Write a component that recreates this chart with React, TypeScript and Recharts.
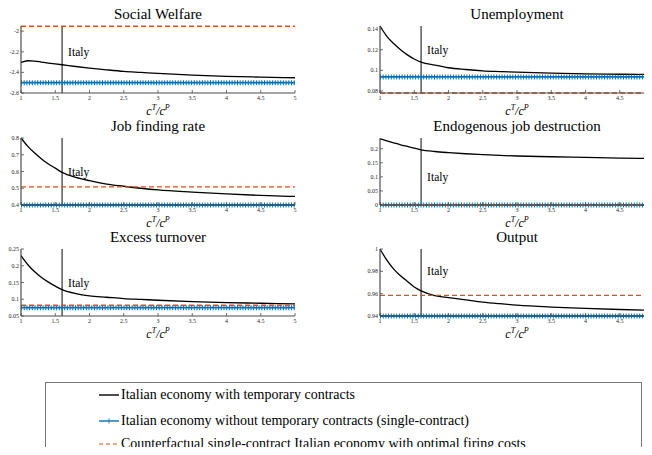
import React from "react";
import { LineChart, Line, XAxis, YAxis, ReferenceLine, ReferenceDot } from "recharts";

const xGrid = [1, 1.1, 1.2, 1.3, 1.4, 1.5, 1.6, 1.8, 2, 2.25, 2.5, 2.75, 3, 3.5, 4, 4.5, 5];
const xTicks = [1, 1.5, 2, 2.5, 3, 3.5, 4, 4.5, 5];
const italyRatio = 1.6;

const panelTitles = [
  "Social Welfare",
  "Unemployment",
  "Job finding rate",
  "Endogenous job destruction",
  "Excess turnover",
  "Output",
];

// Italian economy with temporary contracts (black)
const welfareTemp = [-2.303, -2.287, -2.29, -2.3, -2.31, -2.318, -2.326, -2.343, -2.358, -2.375, -2.39, -2.4, -2.41, -2.426, -2.438, -2.446, -2.452];
const unempTemp = [0.143, 0.133, 0.126, 0.12, 0.115, 0.111, 0.108, 0.105, 0.1025, 0.1008, 0.0995, 0.0988, 0.0982, 0.0972, 0.0965, 0.0962, 0.096];
const jobFindTemp = [0.8, 0.75, 0.71, 0.675, 0.645, 0.62, 0.595, 0.565, 0.545, 0.525, 0.512, 0.5, 0.49, 0.477, 0.466, 0.457, 0.451];
const destructTemp = [0.235, 0.228, 0.221, 0.214, 0.208, 0.202, 0.196, 0.19, 0.186, 0.182, 0.179, 0.176, 0.174, 0.1714, 0.169, 0.1668, 0.1655];
const turnoverTemp = [0.23, 0.203, 0.182, 0.165, 0.151, 0.139, 0.129, 0.117, 0.11, 0.106, 0.102, 0.0995, 0.097, 0.093, 0.09, 0.088, 0.086];
const outputTemp = [1.0, 0.99, 0.982, 0.976, 0.971, 0.966, 0.9625, 0.9583, 0.9565, 0.9545, 0.9525, 0.951, 0.9497, 0.948, 0.9468, 0.9458, 0.945];
const tempSeries = [welfareTemp, unempTemp, jobFindTemp, destructTemp, turnoverTemp, outputTemp];

// single-contract economy (blue) and optimal firing cost counterfactual (orange)
const singleLevels = [-2.5, 0.0936, 0.4, 0, 0.075, 0.94];
const optimalLevels = [-1.952, 0.078, 0.508, 0, 0.082, 0.9585];

const yDomains = [
  [-2.6, -1.95],
  [0.078, 0.143],
  [0.4, 0.8],
  [0, 0.238],
  [0.05, 0.25],
  [0.94, 1],
];
const yTicks = [
  [-2.6, -2.4, -2.2, -2],
  [0.08, 0.1, 0.12, 0.14],
  [0.4, 0.5, 0.6, 0.7, 0.8],
  [0, 0.05, 0.1, 0.15, 0.2],
  [0.05, 0.1, 0.15, 0.2, 0.25],
  [0.94, 0.96, 0.98, 1],
];
const italyLabelY = [-2.2, 0.12, 0.6, 0.1, 0.15, 0.98];

const legendLabels = [
  "Italian economy with temporary contracts",
  "Italian economy without temporary contracts (single-contract)",
  "Counterfactual single-contract Italian economy with optimal firing costs",
];

const SERIF = '"Liberation Serif", "DejaVu Serif", serif';
const AXIS = "#4d4d4d";
const BLUE = "#0072BD";
const ORANGE = "#D95319";

const plotLefts = [21, 380];
const plotTops = [26, 138, 249];
const PLOT_W = 274;
const PLOT_H = 67;
const Y_W = 30;
const M_TOP = 4;
const X_H = 14;

const tickText = { fontSize: 6, fill: "#262626", fontFamily: SERIF };

// the right column is cropped at the figure edge, so its last label is not shown
const makeBottomTick = (showLast: boolean) => (props: any) => (
  <g>
    <line x1={props.x} x2={props.x} y1={props.y} y2={props.y - 3} stroke={AXIS} strokeWidth={0.8} />
    {(showLast || props.payload.value !== 5) && (
      <text x={props.x} y={props.y + 7} textAnchor="middle" {...tickText}>
        {props.payload.value}
      </text>
    )}
  </g>
);
const topTick = (props: any) => (
  <line x1={props.x} x2={props.x} y1={props.y} y2={props.y + 3} stroke={AXIS} strokeWidth={0.8} />
);
const leftTick = (props: any) => (
  <g>
    <line x1={props.x} x2={props.x + 3} y1={props.y} y2={props.y} stroke={AXIS} strokeWidth={0.8} />
    <text x={props.x - 2} y={props.y + 2} textAnchor="end" {...tickText}>
      {props.payload.value}
    </text>
  </g>
);
const rightTick = (props: any) => (
  <line x1={props.x} x2={props.x - 3} y1={props.y} y2={props.y} stroke={AXIS} strokeWidth={0.8} />
);

function Panel({ i }: { i: number }) {
  const left = plotLefts[i % 2];
  const top = plotTops[Math.floor(i / 2)];
  const rows = xGrid.map((x, k) => ({
    x,
    temp: tempSeries[i][k],
    single: singleLevels[i],
    optimal: optimalLevels[i],
  }));
  return (
    <>
      <div
        style={{
          position: "absolute",
          left,
          top: top - 21,
          width: PLOT_W,
          textAlign: "center",
          fontFamily: SERIF,
          fontSize: 15,
          lineHeight: "18px",
          whiteSpace: "nowrap",
        }}
      >
        {panelTitles[i]}
      </div>
      <div style={{ position: "absolute", left: left - Y_W, top: top - M_TOP }}>
        <LineChart
          width={Y_W + PLOT_W + 10}
          height={M_TOP + PLOT_H + X_H}
          data={rows}
          margin={{ top: M_TOP, right: 10, bottom: 0, left: 0 }}
        >
          <XAxis xAxisId="b" dataKey="x" type="number" domain={[1, 5]} ticks={xTicks} interval={0}
            tickSize={0} tickMargin={0} height={X_H} stroke={AXIS} strokeWidth={1.2} tick={makeBottomTick(i % 2 === 0)} />
          <XAxis xAxisId="t" orientation="top" dataKey="x" type="number" domain={[1, 5]} ticks={xTicks}
            interval={0} tickSize={0} tickMargin={0} height={0} stroke={AXIS} strokeWidth={1.2} tick={topTick} />
          <YAxis yAxisId="l" type="number" domain={yDomains[i]} ticks={yTicks[i]} interval={0}
            tickSize={0} tickMargin={0} width={Y_W} stroke={AXIS} strokeWidth={1.2} tick={leftTick} />
          <YAxis yAxisId="r" orientation="right" type="number" domain={yDomains[i]} ticks={yTicks[i]}
            interval={0} tickSize={0} tickMargin={0} width={0} stroke={AXIS} strokeWidth={1.2} tick={rightTick} />
          <ReferenceLine xAxisId="b" yAxisId="l" x={italyRatio} stroke={AXIS} strokeWidth={1.4} />
          <ReferenceDot
            xAxisId="b"
            yAxisId="l"
            x={italyRatio}
            y={italyLabelY[i]}
            r={0.01}
            fill="none"
            stroke="none"
            label={{ value: "Italy", position: "right", offset: 6, fontSize: 11.5, fill: "#000", fontFamily: SERIF }}
          />
          <Line xAxisId="b" yAxisId="l" dataKey="temp" type="monotone" stroke="#000" strokeWidth={1.3}
            dot={false} isAnimationActive={false} />
          <Line xAxisId="b" yAxisId="l" dataKey="single" stroke={BLUE} strokeWidth={1.8}
            dot={false} isAnimationActive={false} />
          <Line xAxisId="b" yAxisId="l" dataKey="single" stroke={BLUE} strokeWidth={5}
            strokeDasharray="1 1.7" dot={false} isAnimationActive={false} />
          <Line xAxisId="t" yAxisId="r" dataKey="optimal" stroke={ORANGE} strokeWidth={1.4}
            strokeDasharray="5 3" dot={false} isAnimationActive={false} />
        </LineChart>
      </div>
      <div
        style={{
          position: "absolute",
          left,
          top: top + PLOT_H + 7,
          width: PLOT_W,
          textAlign: "center",
          fontFamily: SERIF,
          fontSize: 12,
          lineHeight: "16px",
          fontStyle: "italic",
        }}
      >
        c<sup style={{ fontSize: 8 }}>T</sup>/c<sup style={{ fontSize: 8 }}>P</sup>
      </div>
    </>
  );
}

function LegendSample({ k }: { k: number }) {
  return (
    <svg width={22} height={10} style={{ position: "absolute", left: 52, top: -5 }}>
      {k === 0 && <line x1={1} x2={21} y1={5} y2={5} stroke="#000" strokeWidth={1.4} />}
      {k === 1 && (
        <g stroke={BLUE}>
          <line x1={1} x2={21} y1={5} y2={5} strokeWidth={1.4} />
          <line x1={11} x2={11} y1={2.5} y2={7.5} strokeWidth={0.9} />
        </g>
      )}
      {k === 2 && <line x1={1} x2={21} y1={5} y2={5} stroke={ORANGE} strokeWidth={1.2} strokeDasharray="4 3" />}
    </svg>
  );
}

export default function App() {
  const legendRowY = [12, 38, 61];
  return (
    <div style={{ position: "relative", width: 652, height: 455, margin: -8, overflow: "hidden", background: "#fff" }}>
      {panelTitles.map((_, i) => (
        <Panel key={i} i={i} />
      ))}
      <div
        style={{
          position: "absolute",
          left: 45,
          top: 382,
          width: 595,
          height: 90,
          border: "1px solid #777",
          fontFamily: SERIF,
          fontSize: 14,
        }}
      >
        {legendLabels.map((label, k) => (
          <div key={k} style={{ position: "absolute", left: 0, top: legendRowY[k] }}>
            <LegendSample k={k} />
            <span style={{ position: "absolute", left: 75, top: -9, lineHeight: "18px", whiteSpace: "nowrap" }}>
              {label}
            </span>
          </div>
        ))}
      </div>
    </div>
  );
}
